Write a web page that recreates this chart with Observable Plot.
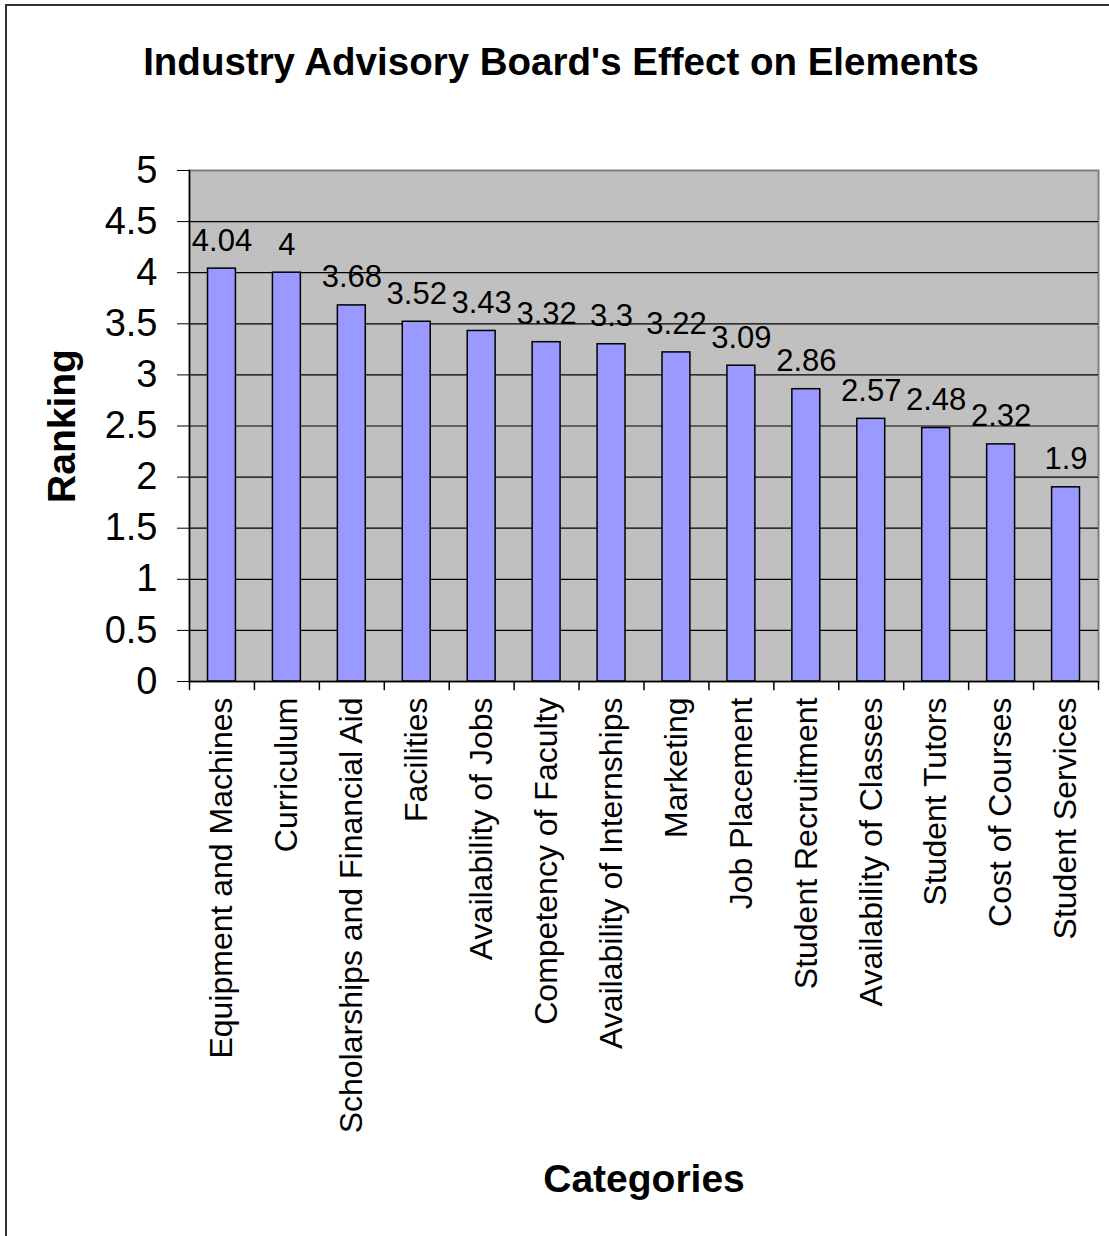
<!DOCTYPE html>
<html>
<head>
<meta charset="utf-8">
<script src="https://cdn.jsdelivr.net/npm/d3@7"></script>
<script src="https://cdn.jsdelivr.net/npm/@observablehq/plot@0.6"></script>
<style>
  body { margin: 0; background: #fff; }
  #wrap { position: relative; width: 1109px; height: 1236px; overflow: hidden; font-family: Arial, "Liberation Sans", sans-serif; }
  #border { position: absolute; left: 5px; top: 4px; width: 1300px; height: 1400px; border: 2px solid #333; box-sizing: border-box; }
  #title { position: absolute; left: 0; top: 40px; width: 1122px; text-align: center; font-weight: bold; font-size: 38.5px; color: #000; }
  #chart { position: absolute; left: 0; top: 0; }
</style>
</head>
<body>
<div id="wrap">
  <div id="border"></div>
  <div id="title">Industry Advisory Board's Effect on Elements</div>
  <div id="chart"></div>
</div>
<script>
const categories = [
  "Equipment and Machines", "Curriculum", "Scholarships and Financial Aid", "Facilities",
  "Availability of Jobs", "Competency of Faculty", "Availability of Internships", "Marketing",
  "Job Placement", "Student Recruitment", "Availability of Classes", "Student Tutors",
  "Cost of Courses", "Student Services"
];
const values = [4.04, 4, 3.68, 3.52, 3.43, 3.32, 3.3, 3.22, 3.09, 2.86, 2.57, 2.48, 2.32, 1.9];
const yTicks = [0, 0.5, 1, 1.5, 2, 2.5, 3, 3.5, 4, 4.5, 5];
const gridLines = [0.5, 1, 1.5, 2, 2.5, 3, 3.5, 4, 4.5];
const yLabel = "Ranking";
const xLabel = "Categories";

const data = categories.map((c, i) => ({category: c, value: values[i]}));

const W = 1109, H = 1236;
const ml = 189, mr = 11, mt = 170, mb = 555;
const step = (W - ml - mr) / categories.length;

const chart = Plot.plot({
  width: W,
  height: H,
  marginLeft: ml,
  marginRight: mr,
  marginTop: mt,
  marginBottom: mb,
  style: {fontFamily: "Arial, 'Liberation Sans', sans-serif", color: "#000", background: "transparent", overflow: "visible"},
  x: {domain: categories, paddingInner: 0.57, paddingOuter: 0.285, round: false},
  y: {domain: [0, 5]},
  marks: [
    Plot.frame({fill: "#C0C0C0", stroke: "#808080", strokeWidth: 2}),
    Plot.ruleY(gridLines, {stroke: "#000", strokeWidth: 1.2}),
    Plot.barY(data, {x: "category", y: "value", fill: "#9999FF", stroke: "#000", strokeWidth: 1.5}),
    Plot.ruleY([0], {stroke: "#000", strokeWidth: 1.5}),
    Plot.frame({anchor: "left", stroke: "#000", strokeWidth: 1.5}),
    // category boundary ticks
    Plot.ruleX(categories, {x: d => d, dx: -step / 2, y1: 0, y2: -0.09, stroke: "#000", strokeWidth: 1.5, clip: false}),
    Plot.ruleX(categories.slice(-1), {x: d => d, dx: step / 2, y1: 0, y2: -0.09, stroke: "#000", strokeWidth: 1.5, clip: false}),
    Plot.axisY({ticks: yTicks, tickFormat: d => String(d), tickSize: 12, tickPadding: 20, fontSize: 38, label: null, stroke: "#000"}),
    Plot.axisX({tickSize: 0, tickRotate: -90, tickPadding: 16, fontSize: 32, label: null}),
    Plot.text(data, {x: "category", y: "value", text: d => String(d.value), dy: -18, lineAnchor: "bottom", fontSize: 31, fill: "#000"}),
    Plot.text([yLabel], {frameAnchor: "left", textAnchor: "middle", dx: -127, rotate: -90, fontSize: 39, fontWeight: "bold", fill: "#000"}),
    Plot.text([xLabel], {frameAnchor: "bottom", textAnchor: "middle", dy: 510, fontSize: 39, fontWeight: "bold", fill: "#000"})
  ]
});
document.getElementById("chart").appendChild(chart);
</script>
</body>
</html>
